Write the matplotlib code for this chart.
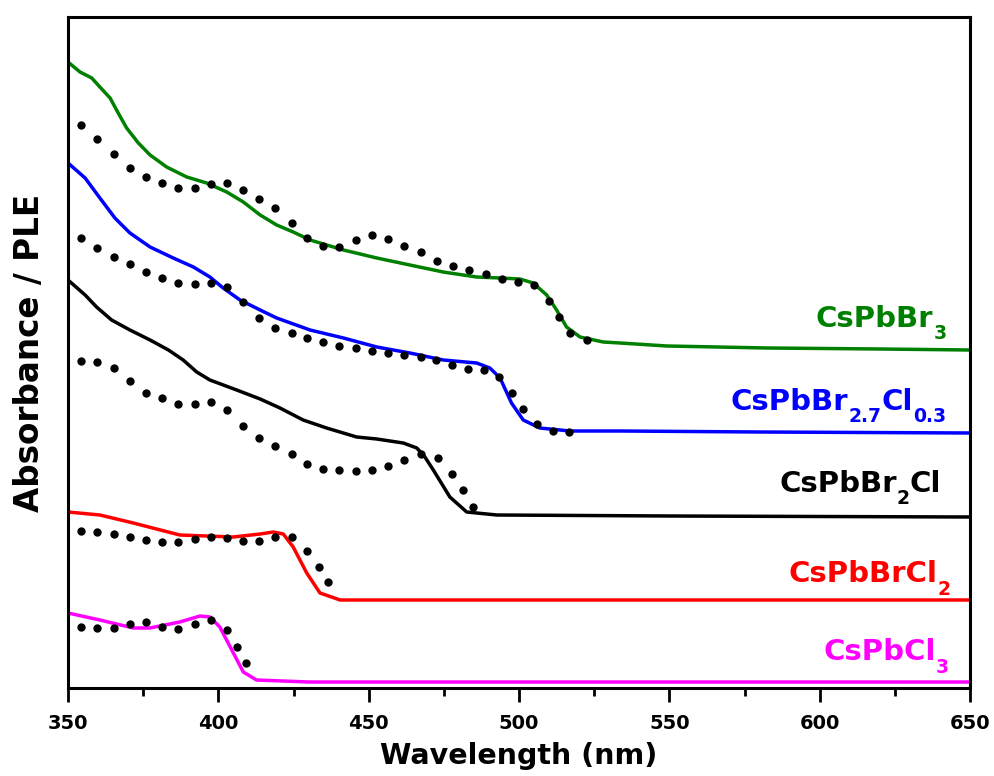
import matplotlib
matplotlib.use("Agg")
import matplotlib.pyplot as plt
from matplotlib.ticker import MultipleLocator
from matplotlib.transforms import offset_copy

# absorbance curves (solid) and PLE spectra (dots), stacked with offsets, arb. units
br3_abs_x = [350, 354, 357.9, 360.6, 364, 366.7, 369.5, 373.4, 377.3, 382.8, 389.5, 396.1, 402.8,
             408.3, 413.9, 419.4, 424.9, 430.5, 441.6, 452.7, 463.7, 474.8, 485.9, 493.7, 500.3,
             504.7, 509.2, 512.5, 515.8, 520.3, 528, 533.6, 549.2, 582.5, 620, 650]
br3_abs_y = [6.26, 6.16, 6.10, 6.01, 5.90, 5.75, 5.60, 5.45, 5.33, 5.21, 5.11, 5.05, 4.96,
             4.86, 4.73, 4.63, 4.56, 4.48, 4.38, 4.30, 4.23, 4.16, 4.11, 4.10, 4.09,
             4.05, 3.93, 3.78, 3.61, 3.51, 3.46, 3.45, 3.42, 3.40, 3.39, 3.38]
br3_ple_x = [354.3, 359.6, 365.2, 370.6, 375.8, 381.3, 386.7, 392.1, 397.4, 402.8, 408.2, 413.5,
             419.0, 424.4, 429.5, 434.8, 440.1, 445.7, 451.0, 456.4, 461.7, 467.3, 472.6, 478.1,
             483.5, 489.0, 494.4, 499.8, 505.1, 510.1, 513.4, 517.0, 522.5]
br3_ple_y = [5.63, 5.49, 5.34, 5.20, 5.11, 5.05, 5.00, 5.00, 5.04, 5.05, 4.98, 4.89,
             4.80, 4.65, 4.50, 4.42, 4.41, 4.48, 4.53, 4.49, 4.42, 4.36, 4.27, 4.22,
             4.18, 4.14, 4.09, 4.06, 4.03, 3.87, 3.71, 3.55, 3.48]

br27_abs_x = [350, 355.7, 360.6, 365.6, 370.6, 377.3, 385, 391.7, 397.2, 401.6, 407.2, 413.9,
              419.4, 430.5, 441.6, 452.7, 463.7, 474.8, 485.9, 490.3, 493.7, 497.5, 501.4,
              506.9, 517, 533.6, 580, 650]
br27_abs_y = [5.25, 5.10, 4.90, 4.70, 4.55, 4.41, 4.30, 4.21, 4.11, 4.00, 3.88, 3.78,
              3.70, 3.58, 3.50, 3.41, 3.35, 3.28, 3.25, 3.20, 3.10, 2.85, 2.68,
              2.60, 2.57, 2.57, 2.56, 2.55]
br27_ple_x = [354.3, 359.6, 365.2, 370.6, 375.8, 381.3, 386.7, 392.1, 397.4, 402.8, 408.2, 413.5,
              419.0, 424.4, 429.5, 434.8, 440.1, 445.7, 451.0, 456.4, 461.7, 467.3, 472.4, 477.6,
              483.1, 488.4, 493.4, 497.6, 501.2, 505.9, 511.2, 516.7]
br27_ple_y = [4.50, 4.40, 4.31, 4.24, 4.16, 4.10, 4.05, 4.04, 4.05, 4.01, 3.86, 3.70,
              3.60, 3.55, 3.50, 3.46, 3.42, 3.40, 3.37, 3.35, 3.33, 3.31, 3.28, 3.23,
              3.19, 3.18, 3.11, 2.95, 2.79, 2.64, 2.57, 2.56]

br2_abs_x = [350, 355.7, 359.5, 364.5, 370.6, 377.3, 383.4, 388.3, 392.8, 397.2, 406.1, 413.9,
             420.5, 428.2, 436, 446, 452.7, 461.5, 466, 468.7, 471.5, 477, 482.6, 492.6, 550, 650]
br2_abs_y = [4.08, 3.93, 3.81, 3.68, 3.58, 3.48, 3.38, 3.28, 3.16, 3.08, 2.98, 2.89,
             2.80, 2.68, 2.60, 2.51, 2.49, 2.45, 2.40, 2.31, 2.18, 1.91, 1.76, 1.73, 1.72, 1.71]
br2_ple_x = [354.3, 359.6, 365.2, 370.6, 375.8, 381.3, 386.7, 392.1, 397.4, 402.8, 408.2, 413.5,
             419.0, 424.4, 429.5, 434.9, 440.1, 445.7, 451.0, 456.5, 461.8, 467.4, 472.9, 477.6,
             481.3, 484.8]
br2_ple_y = [3.27, 3.26, 3.20, 3.07, 2.95, 2.90, 2.84, 2.84, 2.86, 2.78, 2.62, 2.50,
             2.42, 2.34, 2.24, 2.19, 2.18, 2.17, 2.18, 2.22, 2.28, 2.34, 2.30, 2.14,
             1.98, 1.81]

cl2_abs_x = [350, 360.6, 371.7, 387.2, 405, 413.9, 418.3, 421.6, 424.9, 429.4, 433.8, 440.5, 650]
cl2_abs_y = [1.76, 1.73, 1.65, 1.53, 1.51, 1.54, 1.56, 1.54, 1.41, 1.15, 0.95, 0.88, 0.88]
cl2_ple_x = [354.3, 359.6, 365.2, 370.6, 375.8, 381.3, 386.7, 392.1, 397.4, 402.8, 408.2, 413.5,
             419.0, 424.4, 429.6, 433.4, 436.5]
cl2_ple_y = [1.57, 1.56, 1.54, 1.51, 1.48, 1.46, 1.46, 1.49, 1.51, 1.50, 1.47, 1.47,
             1.51, 1.51, 1.37, 1.21, 1.06]

cl3_abs_x = [350, 360.6, 371.7, 377.2, 387.2, 393.9, 397.2, 400.5, 405, 408.3, 412.7, 430, 650]
cl3_abs_y = [0.75, 0.68, 0.60, 0.60, 0.66, 0.72, 0.71, 0.61, 0.35, 0.16, 0.08, 0.06, 0.06]
cl3_ple_x = [354.3, 359.6, 365.2, 370.6, 375.8, 381.3, 386.7, 392.1, 397.4, 402.8, 406.3, 409.2]
cl3_ple_y = [0.61, 0.60, 0.60, 0.64, 0.66, 0.61, 0.59, 0.64, 0.68, 0.58, 0.41, 0.25]

# formula labels: (text, is_subscript) pieces
labels = [
    [('CsPbBr', False), ('3', True)],
    [('CsPbBr', False), ('2.7', True), ('Cl', False), ('0.3', True)],
    [('CsPbBr', False), ('2', True), ('Cl', False)],
    [('CsPbBrCl', False), ('2', True)],
    [('CsPbCl', False), ('3', True)],
]
colors = ['#008000', '#0000ff', '#000000', '#ff0000', '#ff00ff']
label_x = [642.2, 642.0, 640.5, 643.5, 643.1]
label_y = [3.61, 2.78, 1.96, 1.06, 0.28]

abs_x = [br3_abs_x, br27_abs_x, br2_abs_x, cl2_abs_x, cl3_abs_x]
abs_y = [br3_abs_y, br27_abs_y, br2_abs_y, cl2_abs_y, cl3_abs_y]
ple_x = [br3_ple_x, br27_ple_x, br2_ple_x, cl2_ple_x, cl3_ple_x]
ple_y = [br3_ple_y, br27_ple_y, br2_ple_y, cl2_ple_y, cl3_ple_y]

fig = plt.figure(figsize=(9.94, 7.76), dpi=100)
ax = fig.add_axes([0.0684, 0.1134, 0.9075, 0.8647])

for i in range(5):
    ax.plot(abs_x[i], abs_y[i], color=colors[i], lw=2.5, zorder=2)
    ax.plot(ple_x[i], ple_y[i], 'o', color='black', ms=6, mec='none', zorder=3)

ax.set_xlim(350, 650)
ax.set_ylim(0, 6.71)
ax.xaxis.set_major_locator(MultipleLocator(50))
ax.xaxis.set_minor_locator(MultipleLocator(25))
ax.set_yticks([])
ax.tick_params(axis='x', which='major', direction='out', length=10, width=2, pad=9,
               labelsize=14)
ax.tick_params(axis='x', which='minor', direction='out', length=6, width=2)
for lab in ax.get_xticklabels():
    lab.set_fontweight('bold')
for sp in ax.spines.values():
    sp.set_linewidth(2.2)

ax.set_xlabel('Wavelength (nm)', fontsize=20.5, fontweight='bold', labelpad=6.5)
ax.set_ylabel('Absorbance / PLE', fontsize=23.5, fontweight='bold', labelpad=16)

# formula labels with low, smaller subscripts, right-aligned to label_x
renderer = fig.canvas.get_renderer()
main_fs, sub_fs, sub_drop = 21, 13.5, 12.5
for i in range(5):
    texts = []
    widths = []
    for s, sub in labels[i]:
        t = ax.text(label_x[i], label_y[i], s, color=colors[i], fontweight='bold',
                    fontsize=sub_fs if sub else main_fs, ha='left', va='baseline')
        texts.append((t, sub))
        widths.append(t.get_window_extent(renderer).width)
    pos = -sum(widths)
    for (t, sub), w in zip(texts, widths):
        t.set_transform(offset_copy(ax.transData, fig=fig, x=pos,
                                    y=-sub_drop if sub else 0, units='dots'))
        pos += w

fig.savefig('out.png', dpi=100)
